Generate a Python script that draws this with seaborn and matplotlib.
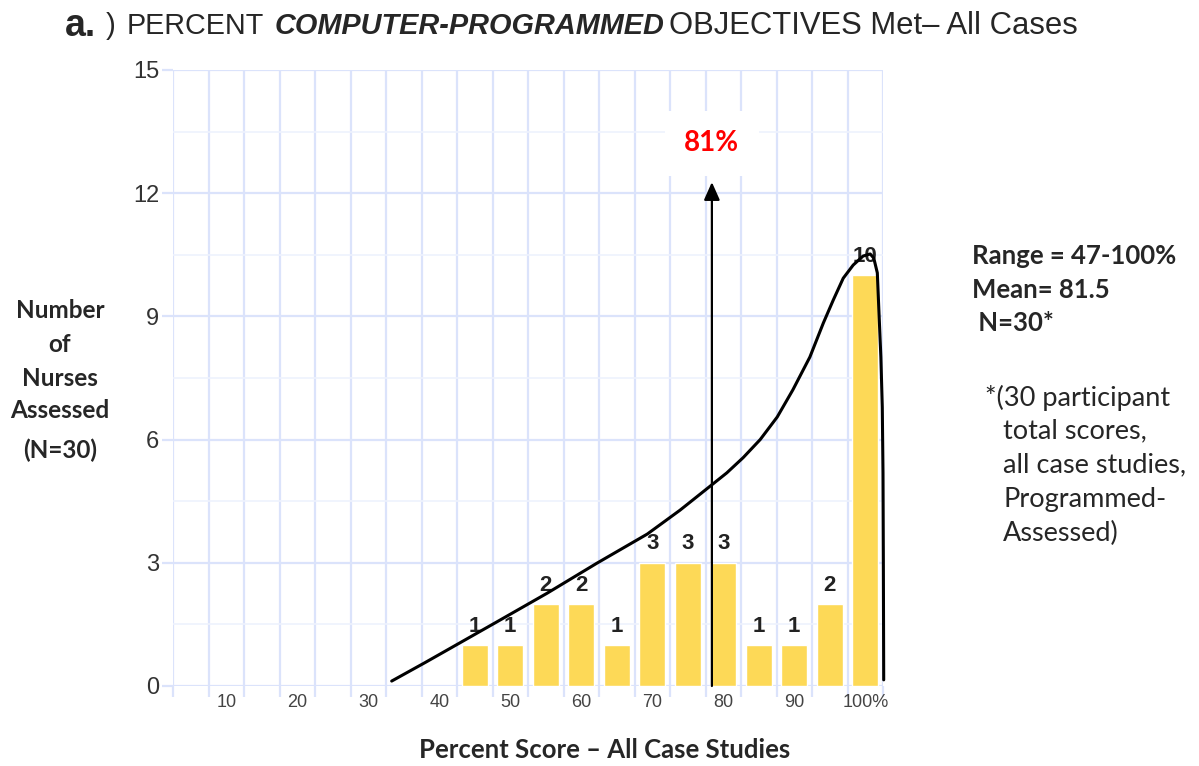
import matplotlib
matplotlib.use("Agg")
import matplotlib.pyplot as plt
import seaborn as sns
import pandas as pd
import numpy as np

# ---- data ----
scores = [45, 50, 55, 60, 65, 70, 75, 80, 85, 90, 95, 100]
counts = [1, 1, 2, 2, 1, 3, 3, 3, 1, 1, 2, 10]
x_tick_vals = [10, 20, 30, 40, 50, 60, 70, 80, 90, 100]
x_tick_labels = ["10", "20", "30", "40", "50", "60", "70", "80", "90", "100%"]
y_ticks = [0, 3, 6, 9, 12, 15]
# hand-drawn distribution curve (percent, count)
curve_x = [33.3, 38.0, 42.9, 48.1, 55.2, 62.2, 69.3, 73.9, 78.4, 80.5, 82.8,
           85.2, 87.6, 89.8, 92.2, 94.1, 95.5, 96.9, 98.3, 99.7, 100.7, 101.2,
           101.7, 101.9, 102.2, 102.4, 102.5, 102.55, 102.6]
curve_y = [0.12, 0.57, 1.05, 1.56, 2.26, 2.99, 3.70, 4.28, 4.90, 5.19, 5.56,
           6.00, 6.55, 7.21, 8.01, 8.84, 9.40, 9.93, 10.25, 10.47, 10.52, 10.42,
           10.06, 9.23, 8.01, 6.79, 5.19, 3.0, 0.15]
mean_label = "81%"
arrow_x = 78.4
arrow_top = 12.27
label_y = 13.22

df = pd.DataFrame({"score": scores, "count": counts})

sns.set_theme(style="white")
plt.rcParams["font.family"] = ["Liberation Sans", "DejaVu Sans"]

fig = plt.figure(figsize=(11.99, 7.66), dpi=100)
ax = fig.add_axes([173/1199, 1-686/766, 710/1199, 616/766])

grid_c = "#dbe3fb"
minor_c = "#eef2fd"

sns.barplot(data=df, x="score", y="count", native_scale=True, color="#fdd957",
            saturation=1, width=0.74, ax=ax, zorder=3)

ax.set_xlim(2.5, 102.5)
ax.set_ylim(0, 15)
for s in ax.spines.values():
    s.set_visible(False)

# grid lines
bounds = np.arange(2.5, 103, 5)
ax.set_xticks(bounds)
ax.set_xticklabels([])
ax.set_xticks(x_tick_vals, x_tick_labels, minor=True)
ax.set_yticks(y_ticks)
ax.set_yticks(np.arange(1.5, 15, 3), minor=True)
ax.grid(True, which="major", color=grid_c, lw=1.6, zorder=0)
ax.grid(True, which="minor", axis="y", color=minor_c, lw=1.2, zorder=0)
ax.tick_params(axis="x", which="major", length=8, color=grid_c, width=1.6, bottom=True)
ax.tick_params(axis="x", which="minor", length=0, labelsize=13, labelcolor="#444444", pad=6)
ax.tick_params(axis="y", which="major", length=8, color=grid_c, width=1.6, left=True,
               labelsize=17, labelcolor="#333333", pad=2)
ax.tick_params(axis="y", which="minor", length=0)
ax.set_xlabel("")
ax.set_ylabel("")

# value labels
for s, c in zip(scores, counts):
    ax.annotate(str(c), (s, c), xytext=(0, 6), textcoords="offset points",
                ha="center", va="bottom", fontsize=16, fontweight="bold",
                color="#222222", zorder=4)

# curve
ax.plot(curve_x, curve_y, color="black", lw=2.2, zorder=5, clip_on=False,
        solid_joinstyle="round", solid_capstyle="round")

# mean arrow
ax.annotate("", xy=(arrow_x, arrow_top), xytext=(arrow_x, 0),
            arrowprops=dict(arrowstyle="-|>,head_length=0.9,head_width=0.4",
                            color="black", lw=1.6, shrinkA=0, shrinkB=0), zorder=6)
ax.text(arrow_x, label_y, mean_label, color="#ff0000", fontsize=20, fontweight="bold",
        ha="center", va="center", family=["Lato", "DejaVu Sans"],
        bbox=dict(boxstyle="square,pad=0.7", fc="white", ec="none"), zorder=6)

# title
fy = 1 - 26/766
fig.text(65/1199, fy, "a.", fontsize=27, fontweight="bold", ha="left", va="center")
fig.text(106/1199, fy, ")", fontsize=21, ha="left", va="center")
fig.text(127/1199, fy, "PERCENT", fontsize=20.7, ha="left", va="center")
fig.text(275/1199, fy, "COMPUTER-PROGRAMMED", fontsize=20.8, ha="left", va="center",
         fontweight="bold", style="italic")
fig.text(669/1199, fy, "OBJECTIVES Met\u2013 All Cases", fontsize=22.3, ha="left",
         va="center")

# y label
lab_f = ["Lato", "DejaVu Sans"]
for txt, yy in [("Number", 311), ("of", 344), ("Nurses", 378), ("Assessed", 411), ("(N=30)", 450)]:
    fig.text(60/1199, 1 - yy/766, txt, fontsize=17.5, fontweight="bold", ha="center",
             va="center", family=lab_f)

# x label
fig.text(605/1199, 1 - 750/766, "Percent Score \u2013 All Case Studies", fontsize=18.5,
         fontweight="bold", ha="center", va="center", family=lab_f)

# right side stats
for txt, xx, yy in [("Range = 47-100%", 972, 256), ("Mean= 81.5", 972, 290), (" N=30*", 972, 323)]:
    fig.text(xx/1199, 1 - yy/766, txt, fontsize=18.5, fontweight="bold", ha="left",
             va="center", family=lab_f)
for txt, xx, yy in [("*(30 participant", 985, 398), ("total scores,", 1003, 431),
                    ("all case studies,", 1003, 465), ("Programmed-", 1003, 500),
                    ("Assessed)", 1003, 533)]:
    fig.text(xx/1199, 1 - yy/766, txt, fontsize=19.5, ha="left", va="center", family=lab_f)

fig.savefig("out.png", dpi=100, facecolor="white")
